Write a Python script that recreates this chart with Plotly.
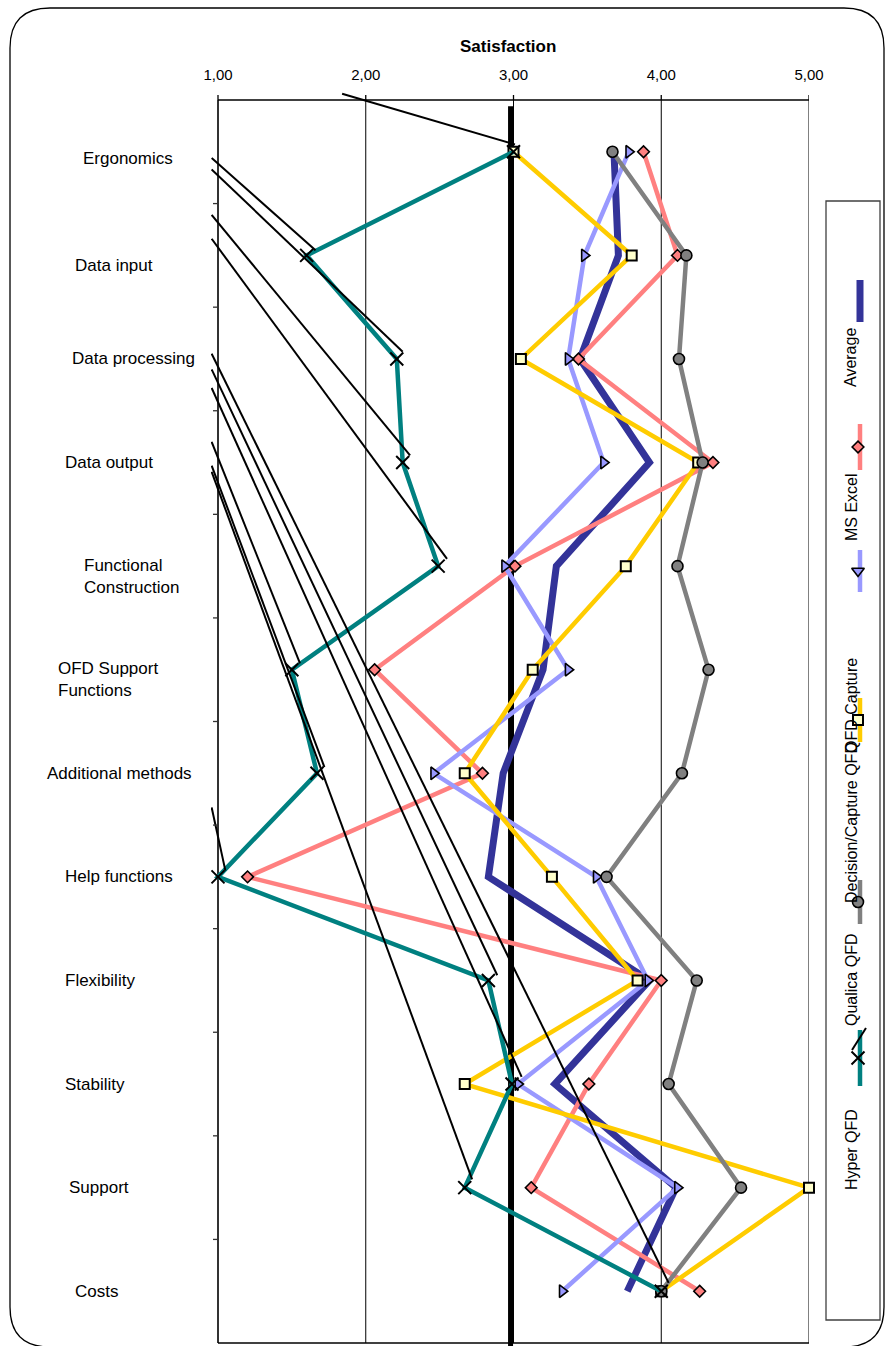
import plotly.graph_objects as go

# ---------------- data ----------------
categories = [
    "Ergonomics", "Data input", "Data processing", "Data output",
    "Functional<br>Construction", "OFD Support<br>Functions", "Additional methods",
    "Help functions", "Flexibility", "Stability", "Support", "Costs",
]
satisfaction_ticks = [1, 2, 3, 4, 5]
satisfaction_tick_text = ["1,00", "2,00", "3,00", "4,00", "5,00"]

average = [3.68, 3.71, 3.45, 3.92, 3.29, 3.20, 2.93, 2.83, 3.92, 3.28, 4.10, 3.77]
ms_excel = [3.88, 4.11, 3.44, 4.35, 3.01, 2.06, 2.79, 1.20, 4.00, 3.51, 3.12, 4.26]
qfd_capture = [3.78, 3.48, 3.37, 3.61, 2.94, 3.37, 2.46, 3.56, 3.91, 3.03, 4.11, 3.33]
decision_capture_qfd = [3.00, 3.80, 3.05, 4.25, 3.76, 3.13, 2.67, 3.26, 3.84, 2.67, 5.00, 4.00]
qualica_qfd = [3.67, 4.17, 4.12, 4.28, 4.11, 4.32, 4.14, 3.63, 4.24, 4.05, 4.54, 4.00]
hyper_qfd = [3.00, 1.60, 2.21, 2.25, 2.49, 1.50, 1.67, 1.00, 2.83, 2.99, 2.67, 4.00]

# Hyper QFD marker strokes (start/end: satisfaction value, category position)
hyper_stroke_from_val = [1.84, 0.957, 0.957, 0.957, 0.957, 0.957, 0.957, 0.957, 0.957, 0.957, 0.957, 0.957]
hyper_stroke_from_pos = [-0.56, 0.06, 0.17, 0.61, 0.84, 2.80, 3.03, 6.33, 2.10, 2.28, 3.09, 1.95]
hyper_stroke_to_val = [3.01, 1.66, 2.25, 2.30, 2.55, 1.555, 1.72, 1.05, 2.89, 3.055, 2.72, 4.05]
hyper_stroke_to_pos = [-0.07, 0.95, 1.93, 2.93, 3.93, 4.94, 5.94, 6.94, 7.95, 8.93, 9.92, 10.92]

# neutral reference line on the satisfaction scale
neutral_value = 2.98

# ---------------- geometry (pixels) ----------------
W, H = 886, 1346
PX_L, PX_R = 211, 809          # main plot area, left/right
PY_T, PY_B = 92, 1346          # main plot area, top/bottom
X1_PX, X5_PX = 218, 809        # pixel positions of 1,00 and 5,00
FRAME_T, FRAME_B = 100, 1343   # top / bottom of the category frame

ppu_x = (X5_PX - X1_PX) / 4.0
x_range = [1 + (PX_L - X1_PX) / ppu_x, 5 + (PX_R - X5_PX) / ppu_x]
n_cat = len(categories)
ppu_y = (FRAME_B - FRAME_T) / n_cat
y_top = -0.5 - (FRAME_T - PY_T) / ppu_y
y_bot = -0.5 + (PY_B - FRAME_T) / ppu_y
pos = list(range(n_cat))


def px(x):
    """figure pixel x -> paper fraction (margins are zero)"""
    return x / W


def py(y):
    """figure pixel y (from top) -> paper fraction"""
    return 1 - y / H


FONT = "Liberation Sans, Arial, sans-serif"

fig = go.Figure()

# neutral line (drawn first, below the series)
fig.add_trace(go.Scatter(
    x=[neutral_value, neutral_value], y=[-0.44, y_bot], mode="lines",
    line=dict(color="black", width=5), showlegend=False, hoverinfo="skip"))

series = [
    ("Average", average, dict(color="#333399", width=7), None),
    ("MS Excel", ms_excel, dict(color="#FF8080", width=4.5),
     dict(symbol="diamond", size=9, color="#FF8080", line=dict(color="black", width=1.6))),
    ("QFD Capture", qfd_capture, dict(color="#9999FF", width=4.5),
     dict(symbol="triangle-right", size=11, color="#9999FF", line=dict(color="black", width=1.6))),
    ("Decision/Capture QFD", decision_capture_qfd, dict(color="#FFCC00", width=4.5),
     dict(symbol="square", size=10, color="#FFFFCC", line=dict(color="black", width=2))),
    ("Qualica QFD", qualica_qfd, dict(color="#808080", width=4.5),
     dict(symbol="circle", size=11, color="#808080", line=dict(color="black", width=1.6))),
    ("Hyper QFD", hyper_qfd, dict(color="#008080", width=4.5),
     dict(symbol="x-thin", size=13, color="black", line=dict(color="black", width=2))),
]

for name, vals, line, marker in series:
    fig.add_trace(go.Scatter(
        x=vals, y=pos, name=name, mode="lines" if marker is None else "lines+markers",
        line=line, marker=marker, cliponaxis=False, showlegend=False))

# Hyper QFD strokes
sx, sy = [], []
for a, b, c, d in zip(hyper_stroke_from_val, hyper_stroke_from_pos,
                      hyper_stroke_to_val, hyper_stroke_to_pos):
    sx += [a, c, None]
    sy += [b, d, None]
fig.add_trace(go.Scatter(x=sx, y=sy, mode="lines", line=dict(color="black", width=2),
                         showlegend=False, hoverinfo="skip"))

# ---------------- frame, grid, ticks ----------------
shapes = []
for v in [2, 3, 4]:
    shapes.append(dict(type="line", xref="x", yref="y", x0=v, x1=v, y0=-0.5, y1=n_cat - 0.5,
                       line=dict(color="black", width=1), layer="below"))
shapes.append(dict(type="line", xref="x", yref="y", x0=5, x1=5, y0=-0.5, y1=n_cat - 0.5,
                   line=dict(color="#808080", width=2), layer="below"))
shapes.append(dict(type="line", xref="x", yref="y", x0=1, x1=1, y0=-0.5, y1=n_cat - 0.5,
                   line=dict(color="#333333", width=2), layer="below"))
shapes.append(dict(type="line", xref="x", yref="y", x0=1, x1=5, y0=-0.5, y1=-0.5,
                   line=dict(color="black", width=1.3), layer="below"))
shapes.append(dict(type="line", xref="x", yref="y", x0=1, x1=5, y0=n_cat - 0.5, y1=n_cat - 0.5,
                   line=dict(color="black", width=1.3), layer="below"))
for v in satisfaction_ticks:
    shapes.append(dict(type="line", xref="x", yref="y", x0=v, x1=v,
                       y0=-0.5, y1=-0.5 - 5 / ppu_y, line=dict(color="black", width=1.3)))
for k in range(1, n_cat):
    shapes.append(dict(type="line", xref="x", yref="y", x0=1 - 5 / ppu_x, x1=1,
                       y0=k - 0.5, y1=k - 0.5, line=dict(color="#333333", width=1.3)))

# outer rounded chart border
R = 40
bx0, by0, bx1, by1 = 10, 8, 884, 1347
pts = dict(
    a=(px(bx0), py(by0 + R)), b=(px(bx0), py(by0)), c=(px(bx0 + R), py(by0)),
    d=(px(bx1 - R), py(by0)), e=(px(bx1), py(by0)), f=(px(bx1), py(by0 + R)),
    g=(px(bx1), py(by1 - R)), h=(px(bx1), py(by1)), i=(px(bx1 - R), py(by1)),
    j=(px(bx0 + R), py(by1)), k=(px(bx0), py(by1)), l=(px(bx0), py(by1 - R)),
)
P = {k: f"{v[0]:.5f},{v[1]:.5f}" for k, v in pts.items()}
shapes.append(dict(
    type="path", xref="paper", yref="paper",
    path=(f"M {P['a']} Q {P['b']} {P['c']} L {P['d']} Q {P['e']} {P['f']} "
          f"L {P['g']} Q {P['h']} {P['i']} L {P['j']} Q {P['k']} {P['l']} Z"),
    line=dict(color="black", width=1.3)))

# legend box
shapes.append(dict(type="rect", xref="paper", yref="paper", x0=px(826), x1=px(880),
                   y0=py(201), y1=py(1320), line=dict(color="#404040", width=1.3)))

# ---------------- legend samples (full-figure pixel axes x2/y2) ----------------
legend_items = [
    # name, text centre y, sample top, sample bottom, line style, marker
    ("Average", 358, 280, 322, series[0][2], None),
    ("MS Excel", 507, 424, 470, series[1][2], series[1][3]),
    ("QFD Capture", 706, 550, 592, series[2][2], series[2][3]),
    ("Decision/Capture QFD", 823, 698, 742, series[3][2], series[3][3]),
    ("Qualica QFD", 980, 880, 924, series[4][2], series[4][3]),
    ("Hyper QFD", 1150, 1030, 1086, series[5][2], series[5][3]),
]
LX_SYM, LX_TXT = 860, 851
annotations = []
for name, ty, s0, s1, line, marker in legend_items:
    fig.add_trace(go.Scatter(x=[LX_SYM, LX_SYM], y=[s0, s1], xaxis="x2", yaxis="y2",
                             mode="lines", line=line, showlegend=False, hoverinfo="skip"))
    if marker is not None:
        m = dict(marker)
        if m["symbol"] == "triangle-right":
            m["symbol"] = "triangle-down"
        fig.add_trace(go.Scatter(x=[LX_SYM - 2], y=[(s0 + s1) / 2], xaxis="x2", yaxis="y2",
                                 mode="markers", marker=m, showlegend=False, hoverinfo="skip",
                                 cliponaxis=False))
    annotations.append(dict(xref="paper", yref="paper", x=px(LX_TXT), y=py(ty), text=name,
                            textangle=-90, showarrow=False, xanchor="center", yanchor="middle",
                            font=dict(family=FONT, size=16, color="black")))
# the slash drawn beside the Hyper QFD sample
fig.add_trace(go.Scatter(x=[852, 866], y=[1050, 1028], xaxis="x2", yaxis="y2", mode="lines",
                         line=dict(color="black", width=2), showlegend=False, hoverinfo="skip"))

# ---------------- category labels ----------------
label_left_px = [81, 73, 70, 63, 82, 56, 45, 63, 63, 63, 67, 73]
label_shift = [-7, -10, 0, 0, -10, -10, 0, 0, 0, 0, 0, 0]
for i, (lab, lx, sh) in enumerate(zip(categories, label_left_px, label_shift)):
    annotations.append(dict(xref="paper", yref="y", x=px(lx), y=i, yshift=sh, text=lab,
                            xanchor="left", yanchor="middle", align="left", showarrow=False,
                            font=dict(family=FONT, size=17, color="black")))

annotations.append(dict(xref="paper", yref="paper", x=px(508), y=py(47),
                        text="<b>Satisfaction</b>", showarrow=False,
                        xanchor="center", yanchor="middle",
                        font=dict(family=FONT, size=17, color="black")))

fig.update_layout(
    width=W, height=H, margin=dict(l=0, r=0, t=0, b=0, pad=0),
    paper_bgcolor="white", plot_bgcolor="rgba(0,0,0,0)",
    showlegend=False, shapes=shapes, annotations=annotations,
    xaxis=dict(domain=[PX_L / W, PX_R / W], range=x_range, side="top",
               tickvals=satisfaction_ticks, ticktext=satisfaction_tick_text,
               showgrid=False, zeroline=False, showline=False, ticks="",
               ticklabelstandoff=8, tickfont=dict(family=FONT, size=15, color="black"),
               fixedrange=True, automargin=False),
    yaxis=dict(domain=[1 - PY_B / H, 1 - PY_T / H], range=[y_bot, y_top],
               showticklabels=False, showgrid=False, zeroline=False, showline=False,
               fixedrange=True, automargin=False),
    xaxis2=dict(domain=[0, 1], range=[0, W], visible=False, fixedrange=True, anchor="y2"),
    yaxis2=dict(domain=[0, 1], range=[H, 0], visible=False, fixedrange=True, anchor="x2"),
)

fig.write_html("out.html")
